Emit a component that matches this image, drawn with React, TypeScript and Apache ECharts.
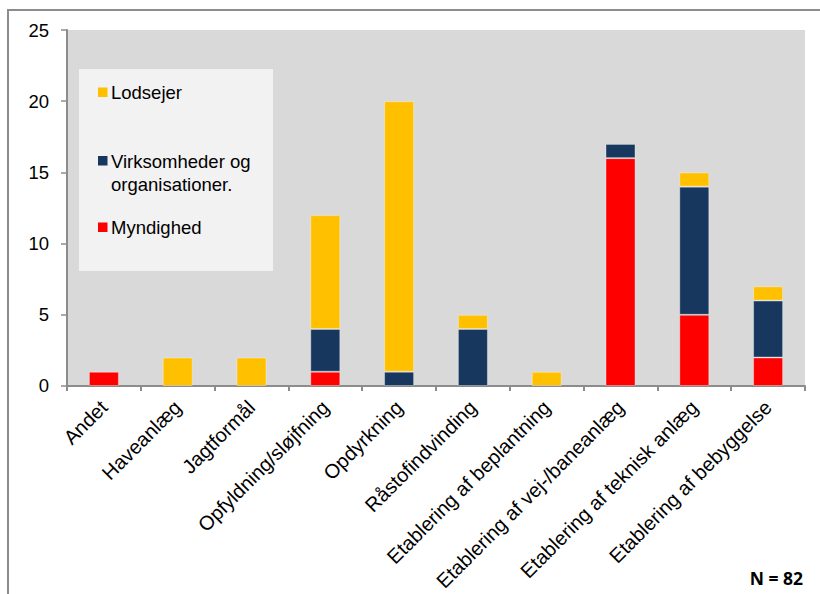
import React, { useEffect, useRef } from "react";
import * as echarts from "echarts";

// Categories (activity types) and counts per applicant group
const categories = [
  "Andet",
  "Haveanlæg",
  "Jagtformål",
  "Opfyldning/sløjfning",
  "Opdyrkning",
  "Råstofindvinding",
  "Etablering af beplantning",
  "Etablering af vej-/baneanlæg",
  "Etablering af teknisk anlæg",
  "Etablering af bebyggelse",
];

const myndighed = [1, 0, 0, 1, 0, 0, 0, 16, 5, 2];
const virksomheder = [0, 0, 0, 3, 1, 4, 0, 1, 9, 4];
const lodsejer = [0, 2, 2, 8, 19, 1, 1, 0, 1, 1];

const yTicks = [0, 5, 10, 15, 20, 25];

const seriesNames = {
  lodsejer: "Lodsejer",
  virksomheder: "Virksomheder og organisationer.",
  myndighed: "Myndighed",
};

const colors = {
  lodsejer: "#FFC000",
  virksomheder: "#17375E",
  myndighed: "#FF0000",
};

const totalN = 82;

const FONT = "'Liberation Sans', Arial, sans-serif";

export default function App() {
  const ref = useRef<HTMLDivElement>(null);

  useEffect(() => {
    if (!ref.current) return;
    const chart = echarts.init(ref.current, null, { renderer: "svg" });

    const barStyle = (color: string) => ({
      color,
      borderColor: "rgba(255,255,255,0.35)",
      borderWidth: 1,
    });

    const zeroToNull = (arr: number[]) => arr.map((v) => (v === 0 ? null : v));

    const legendText = (text: string, y: number) => ({
      type: "text",
      x: 111,
      y,
      style: {
        text,
        font: `18.5px ${FONT}`,
        fill: "#000",
        verticalAlign: "middle",
      },
      z: 11,
    });

    const legendSwatch = (color: string, y: number) => ({
      type: "rect",
      shape: { x: 98, y, width: 9.5, height: 9.5 },
      style: { fill: color },
      z: 11,
    });

    chart.setOption({
      animation: false,
      backgroundColor: "#ffffff",
      textStyle: { fontFamily: FONT },
      grid: {
        left: 67,
        right: 15,
        top: 30,
        bottom: 208,
        show: true,
        backgroundColor: "#D9D9D9",
        borderWidth: 0,
        containLabel: false,
      },
      xAxis: {
        type: "category",
        data: categories,
        axisLine: { show: true, lineStyle: { color: "#8C8C8C", width: 2 } },
        axisTick: {
          show: true,
          alignWithLabel: false,
          length: 5,
          lineStyle: { color: "#8C8C8C", width: 2 },
        },
        axisLabel: {
          rotate: 45,
          interval: 0,
          margin: 18,
          fontSize: 20,
          color: "#000000",
          fontFamily: FONT,
        },
      },
      yAxis: {
        type: "value",
        min: yTicks[0],
        max: yTicks[yTicks.length - 1],
        interval: 5,
        axisLine: { show: true, lineStyle: { color: "#8C8C8C", width: 2 } },
        axisTick: {
          show: true,
          inside: false,
          length: 6,
          lineStyle: { color: "#8C8C8C", width: 1.5 },
        },
        splitLine: { show: false },
        axisLabel: {
          margin: 18,
          fontSize: 18.5,
          color: "#000000",
          fontFamily: FONT,
        },
      },
      series: [
        {
          name: seriesNames.myndighed,
          type: "bar",
          stack: "total",
          barWidth: 30,
          data: zeroToNull(myndighed),
          itemStyle: barStyle(colors.myndighed),
        },
        {
          name: seriesNames.virksomheder,
          type: "bar",
          stack: "total",
          barWidth: 30,
          data: zeroToNull(virksomheder),
          itemStyle: barStyle(colors.virksomheder),
        },
        {
          name: seriesNames.lodsejer,
          type: "bar",
          stack: "total",
          barWidth: 30,
          data: zeroToNull(lodsejer),
          itemStyle: barStyle(colors.lodsejer),
        },
      ],
      graphic: [
        // outer frame
        {
          type: "rect",
          shape: { x: 8, y: 10, width: 840, height: 620 },
          style: { fill: "none", stroke: "#8C8C8C", lineWidth: 2 },
          silent: true,
        },
        // legend panel
        {
          type: "rect",
          shape: { x: 79, y: 69, width: 194, height: 202 },
          style: { fill: "#F2F2F2" },
          z: 10,
        },
        legendSwatch(colors.lodsejer, 87.5),
        legendText(seriesNames.lodsejer, 92.5),
        legendSwatch(colors.virksomheder, 156),
        legendText("Virksomheder og", 161),
        legendText("organisationer.", 184),
        legendSwatch(colors.myndighed, 222.5),
        legendText(seriesNames.myndighed, 227),
        // sample size
        {
          type: "text",
          x: 803,
          y: 578,
          style: {
            text: `N = ${totalN}`,
            font: `bold 17.5px 'Open Sans', sans-serif`,
            fill: "#000",
            align: "right",
            verticalAlign: "middle",
          },
          z: 11,
        },
      ],
    });

    return () => chart.dispose();
  }, []);

  return (
    <div
      ref={ref}
      style={{ position: "fixed", left: 0, top: 0, width: 820, height: 594 }}
    />
  );
}
